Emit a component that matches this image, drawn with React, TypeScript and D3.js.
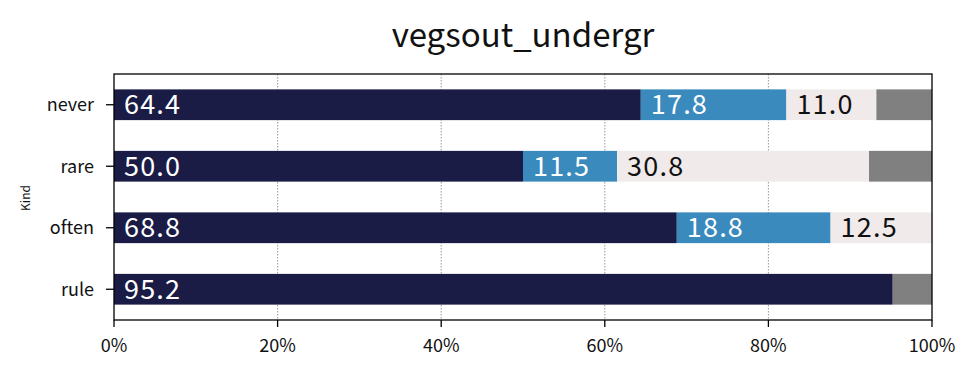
import React from "react";
import * as d3 from "d3";

const categories = ["never", "rare", "often", "rule"];
const seriesA = [64.4, 50.0, 68.8, 95.2];
const seriesB = [17.8, 11.5, 18.8, 0];
const seriesC = [11.0, 30.8, 12.5, 0];
const seriesD = [6.8, 7.7, 0, 4.8];
const xTicks = [0, 20, 40, 60, 80, 100];
const colors = ["#1b1c45", "#3a8abd", "#f0eaea", "#808080"];
const labelColors = ["#ffffff", "#ffffff", "#111111", "#111111"];
const title = "vegsout_undergr";
const yTitle = "Kind";

const W = 980;
const H = 377;
const m = { left: 114, right: 932, top: 74, bottom: 320 };
const FONT = "'Noto Sans CJK JP', 'Noto Sans', sans-serif";

export default function App() {
  const x = d3.scaleLinear().domain([0, 100]).range([m.left, m.right]);
  const y = d3.scaleLinear().domain([-0.5, 3.5]).range([m.top, m.bottom]);
  const bh = y(0.25) - y(-0.25);
  const series = [seriesA, seriesB, seriesC, seriesD];
  const stack = categories.map((c, i) => {
    let acc = 0;
    return series.map((s, k) => {
      const v = s[i];
      const seg = { k, v, x0: acc, x1: acc + v };
      acc += v;
      return seg;
    });
  });
  return (
    <svg width={W} height={H} style={{ position: "absolute", left: 0, top: 0, background: "#fff" }}>
      <text x={(m.left + m.right) / 2} y={47} textAnchor="middle" fontFamily={FONT} fontSize={33} fill="#111">
        {title}
      </text>
      {xTicks.slice(1, -1).map((t) => (
        <line key={t} x1={x(t)} x2={x(t)} y1={m.top} y2={m.bottom} stroke="#555" strokeWidth={0.6} strokeDasharray="1.5,1.5" />
      ))}
      {categories.map((c, i) => (
        <g key={c}>
          {stack[i].map((s) =>
            s.v > 0 ? (
              <rect key={s.k} x={x(s.x0)} y={y(i) - bh / 2} width={x(s.x1) - x(s.x0)} height={bh} fill={colors[s.k]} />
            ) : null
          )}
          {stack[i].map((s) =>
            s.v > 0 && s.k < 3 ? (
              <text key={"t" + s.k} x={x(s.x0) + 10} y={y(i)} dy="0.36em" fontFamily={FONT} fontSize={27} letterSpacing={1.2} fill={labelColors[s.k]}>
                {s.v.toFixed(1)}
              </text>
            ) : null
          )}
        </g>
      ))}
      <rect x={m.left} y={m.top} width={m.right - m.left} height={m.bottom - m.top} fill="none" stroke="#000" strokeWidth={1.3} />
      {categories.map((c, i) => (
        <g key={"y" + c}>
          <line x1={m.left - 8} x2={m.left} y1={y(i)} y2={y(i)} stroke="#000" strokeWidth={1.3} />
          <text x={m.left - 20} y={y(i)} dy="0.36em" textAnchor="end" fontFamily={FONT} fontSize={18} fill="#111">
            {c}
          </text>
        </g>
      ))}
      {xTicks.map((t) => (
        <g key={"x" + t}>
          <line x1={x(t)} x2={x(t)} y1={m.bottom} y2={m.bottom + 7} stroke="#000" strokeWidth={1.3} />
          <text x={x(t)} y={m.bottom + 32} textAnchor="middle" fontFamily={FONT} fontSize={18} fill="#111">
            {t + "%"}
          </text>
        </g>
      ))}
      <text transform={`translate(30,${198}) rotate(-90)`} textAnchor="middle" fontFamily={FONT} fontSize={12} fill="#111">
        {yTitle}
      </text>
    </svg>
  );
}
